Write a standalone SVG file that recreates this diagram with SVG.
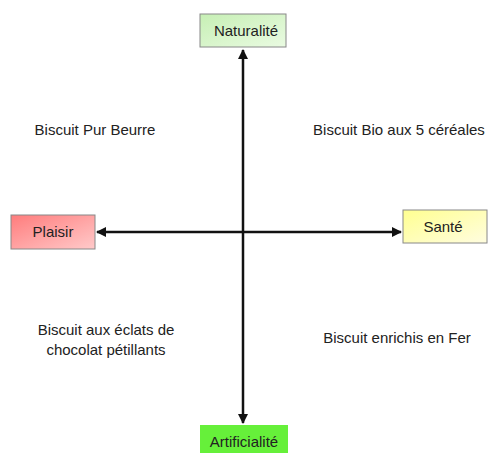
<svg xmlns="http://www.w3.org/2000/svg" width="488" height="453" viewBox="0 0 488 453">
<style>
text{font-family:"Liberation Sans",Arial,sans-serif;font-size:15px;fill:#222;text-anchor:middle}
.box{stroke:#888;stroke-width:1}
.ax{stroke:#111;stroke-width:2.5;fill:none}
</style>
<defs>
<linearGradient id="gN" x1="0" y1="0" x2="1" y2="1"><stop offset="0" stop-color="#c6efb4"/><stop offset="1" stop-color="#eafbe2"/></linearGradient>
<linearGradient id="gP" x1="0" y1="0" x2="1" y2="1"><stop offset="0" stop-color="#ff7c7c"/><stop offset="1" stop-color="#ffcaca"/></linearGradient>
<linearGradient id="gS" x1="0" y1="0" x2="1" y2="1"><stop offset="0" stop-color="#ffff90"/><stop offset="1" stop-color="#fffde0"/></linearGradient>
<marker id="ah" viewBox="0 0 10 10" refX="9" refY="5" markerWidth="4" markerHeight="4" orient="auto-start-reverse"><path d="M0,0 L10,5 L0,10 z" fill="#111"/></marker>
</defs>
<g id="connectors">
<line class="ax" x1="243" y1="50" x2="243" y2="423" marker-start="url(#ah)" marker-end="url(#ah)"/>
<line class="ax" x1="97" y1="232" x2="401" y2="232" marker-start="url(#ah)" marker-end="url(#ah)"/>
</g>
<g id="naturalite"><rect class="box" x="200" y="14" width="86" height="33" fill="url(#gN)"/><text x="246" y="36">Naturalité</text></g>
<g id="plaisir"><rect class="box" x="11" y="215" width="84" height="34" fill="url(#gP)"/><text x="53" y="237">Plaisir</text></g>
<g id="sante"><rect class="box" x="403" y="210" width="84" height="33" fill="url(#gS)"/><text x="443" y="232">Santé</text></g>
<g id="artificialite"><rect x="200" y="425" width="88" height="30" fill="#66f03a"/><text x="244" y="447">Artificialité</text></g>
<g id="labels">
<text x="95" y="135">Biscuit Pur Beurre</text>
<text x="399" y="135">Biscuit Bio aux 5 céréales</text>
<text x="106" y="335">Biscuit aux éclats de</text>
<text x="106" y="355">chocolat pétillants</text>
<text x="397" y="343">Biscuit enrichis en Fer</text>
</g>
</svg>
